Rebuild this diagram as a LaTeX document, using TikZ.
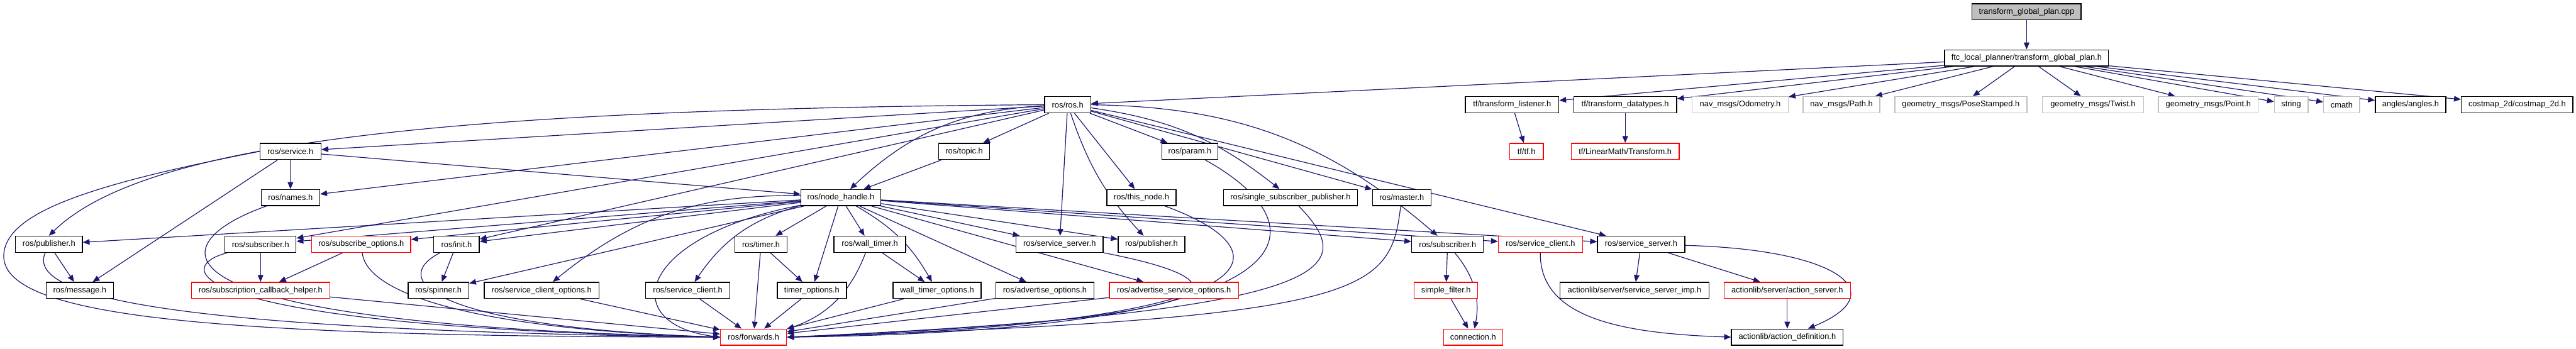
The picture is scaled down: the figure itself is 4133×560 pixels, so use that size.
\documentclass[tikz,border=0pt]{standalone}
\usepackage{fontspec}
\setmainfont{Liberation Sans}
\usetikzlibrary{arrows.meta}
\definecolor{edgecol}{HTML}{191970}
\definecolor{graycol}{HTML}{BFBFBF}
\pgfdeclarelayer{edgelayer}
\pgfsetlayers{edgelayer,main}
\begin{document}
\begin{tikzpicture}[x=1pt,y=1pt,
  box/.style={draw=black,fill=white,line width=1.4pt,minimum height=26pt,inner sep=0pt,font=\fontsize{13}{15}\selectfont},
  ext/.style={box,draw=graycol},
  trunc/.style={box,draw=red},
  root/.style={box,fill=graycol},
  dep/.style={draw=edgecol,line width=1.2pt,-{Triangle[length=11pt,width=9pt]}}]
\useasboundingbox (0,0) rectangle (4133,-560);
% row 0,1
\node[root,minimum width=175pt] (cpp) at (3251.5,-19) {transform\_global\_plan.cpp};
\node[box,minimum width=263pt] (ftc) at (3251.5,-93) {ftc\_local\_planner/transform\_global\_plan.h};
% row 2
\node[box,minimum width=74pt] (ros) at (1713,-168) {ros/ros.h};
\node[box,minimum width=150pt] (tfl) at (2426,-168) {tf/transform\_listener.h};
\node[box,minimum width=165pt] (tfd) at (2607.5,-168) {tf/transform\_datatypes.h};
\node[ext,minimum width=154pt] (odo) at (2792,-168) {nav\_msgs/Odometry.h};
\node[ext,minimum width=123pt] (path) at (2954.5,-168) {nav\_msgs/Path.h};
\node[ext,minimum width=212pt] (pose) at (3146,-168) {geometry\_msgs/PoseStamped.h};
\node[ext,minimum width=162pt] (twist) at (3358,-168) {geometry\_msgs/Twist.h};
\node[ext,minimum width=160pt] (point) at (3543,-168) {geometry\_msgs/Point.h};
\node[ext,minimum width=54pt] (string) at (3676,-168) {string};
\node[ext,minimum width=58pt] (cmath) at (3757,-168) {cmath};
\node[box,minimum width=113pt] (angles) at (3867.5,-168) {angles/angles.h};
\node[box,minimum width=179pt] (costmap) at (4038.5,-168) {costmap\_2d/costmap\_2d.h};
% row 3
\node[box,minimum width=98pt] (service) at (466,-243) {ros/service.h};
\node[box,minimum width=82pt] (topic) at (1547,-243) {ros/topic.h};
\node[box,minimum width=90pt] (param) at (1909,-243) {ros/param.h};
\node[trunc,minimum width=54pt] (tftf) at (2449,-243) {tf/tf.h};
\node[trunc,minimum width=173pt] (transform) at (2607.5,-243) {tf/LinearMath/Transform.h};
% row 4
\node[box,minimum width=94pt] (names) at (466,-317) {ros/names.h};
\node[box,minimum width=128pt] (nh) at (1349,-317) {ros/node\_handle.h};
\node[box,minimum width=111pt] (thisnode) at (1831.5,-317) {ros/this\_node.h};
\node[box,minimum width=215pt] (ssp) at (2070.5,-317) {ros/single\_subscriber\_publisher.h};
\node[box,minimum width=94pt] (master) at (2249,-317) {ros/master.h};
% row 5
\node[box,minimum width=107pt] (pubL) at (78.5,-392) {ros/publisher.h};
\node[box,minimum width=114pt] (subL) at (418,-392) {ros/subscriber.h};
\node[trunc,minimum width=159pt] (subopt) at (579.5,-392) {ros/subscribe\_options.h};
\node[box,minimum width=73pt] (init) at (732.5,-392) {ros/init.h};
\node[box,minimum width=84pt] (timer) at (1221,-392) {ros/timer.h};
\node[box,minimum width=115pt] (walltimer) at (1395.5,-392) {ros/wall\_timer.h};
\node[box,minimum width=140pt] (ssrvM) at (1700,-392) {ros/service\_server.h};
\node[box,minimum width=107pt] (pubM) at (1847.5,-392) {ros/publisher.h};
\node[box,minimum width=115pt] (subR) at (2322.5,-392) {ros/subscriber.h};
\node[trunc,minimum width=135pt] (sclientR) at (2471.5,-392) {ros/service\_client.h};
\node[box,minimum width=140pt] (ssrvR) at (2633,-392) {ros/service\_server.h};
% row 6
\node[box,minimum width=108pt] (message) at (128,-466) {ros/message.h};
\node[trunc,minimum width=222pt] (sch) at (418,-466) {ros/subscription\_callback\_helper.h};
\node[box,minimum width=97pt] (spinner) at (703.5,-466) {ros/spinner.h};
\node[box,minimum width=184pt] (sco) at (869,-466) {ros/service\_client\_options.h};
\node[box,minimum width=135pt] (sclient) at (1103.5,-466) {ros/service\_client.h};
\node[box,minimum width=111pt] (topt) at (1302.5,-466) {timer\_options.h};
\node[box,minimum width=141pt] (wtopt) at (1503.5,-466) {wall\_timer\_options.h};
\node[box,minimum width=157pt] (adv) at (1676.5,-466) {ros/advertise\_options.h};
\node[trunc,minimum width=207pt] (advs) at (1883.5,-466) {ros/advertise\_service\_options.h};
\node[trunc,minimum width=102pt] (sfilter) at (2320,-466) {simple\_filter.h};
\node[box,minimum width=239pt] (ssimp) at (2622.5,-466) {actionlib/server/service\_server\_imp.h};
\node[trunc,minimum width=203pt] (aserver) at (2867.5,-466) {actionlib/server/action\_server.h};
% row 7
\node[trunc,minimum width=106pt] (fwd) at (1209,-541) {ros/forwards.h};
\node[trunc,minimum width=95pt] (conn) at (2363.5,-541) {connection.h};
\node[box,minimum width=179pt] (adef) at (2867.5,-541) {actionlib/action\_definition.h};

\begin{pgfonlayer}{edgelayer}
% edges from top
\draw[dep] (cpp) -- (ftc);
\foreach \t in {ros,tfl,tfd,odo,path,pose,twist,point,string,cmath,angles,costmap}
  \draw[dep] (ftc) -- (\t);
\draw[dep] (tfl) -- (tftf);
\draw[dep] (tfd) -- (transform);
% ros/ros.h
\draw[dep] (ros) -- (topic);
\draw[dep] (ros) -- (param);
\draw[dep] (ros) -- (thisnode);
\draw[dep] (ros) to[bend left=15] (ssp);
\draw[dep] (ros) -- (master);
\draw[dep] (ros) to[bend left=20] (subR);
\draw[dep] (ros) -- (ssrvR);
\draw[dep] (ros) -- (ssrvM);
\draw[dep] (ros) to[bend right=12] (pubM);
\draw[dep] (ros) -- (service);
\draw[dep] (ros) -- (names);
\draw[dep] (ros) to[bend right=20] (nh);
\draw[dep] (topic) -- (nh);
\draw[dep] (ros) -- (init);
\draw[dep] (ros) -- (subL);
\draw[dep] (ros.west) .. controls (700,-175) and (230,-230) .. (pubL.north);
% ros/service.h
\draw[dep] (service) -- (names);
\draw[dep] (service) -- (message);
\draw[dep] (service) -- (nh);
\draw[dep] (service.west) .. controls (150,-295) and (8,-340) .. (6,-410) .. controls (4,-510) and (350,-540) .. (fwd.west);
\draw[dep] (names) .. controls (260,-390) and (200,-520) .. (fwd.west);
% left group
\draw[dep] (pubL) -- (message);
\draw[dep] (pubL) .. controls (40,-480) and (300,-530) .. (fwd.west);
\draw[dep] (subL) -- (sch);
\draw[dep] (subL) .. controls (270,-430) and (300,-525) .. (fwd.west);
\draw[dep] (subopt) -- (sch);
\draw[dep] (subopt) .. controls (590,-480) and (800,-530) .. (fwd.west);
\draw[dep] (sch) -- (fwd);
\draw[dep] (init) -- (spinner);
\draw[dep] (init) .. controls (620,-450) and (700,-525) .. (fwd.west);
% ros/node_handle.h
\foreach \t in {pubL,subL,subopt,init,spinner,timer,topt,walltimer,adv,advs,ssrvM,pubM,subR,sclientR,ssrvR}
  \draw[dep] (nh) -- (\t);
\draw[dep] (nh) to[bend right=20] (sco);
\draw[dep] (nh) to[bend right=20] (sclient);
\draw[dep] (nh) to[bend left=15] (wtopt);
\draw[dep] (nh) .. controls (1020,-380) and (990,-520) .. (fwd.west);
% middle group
\draw[dep] (timer) -- (topt);
\draw[dep] (timer) -- (fwd);
\draw[dep] (topt) -- (fwd);
\draw[dep] (sclient) -- (fwd);
\draw[dep] (sco) -- (fwd);
\draw[dep] (walltimer) -- (wtopt);
\draw[dep] (walltimer) to[bend left=25] (fwd);
\draw[dep] (wtopt) -- (fwd);
\draw[dep] (adv) -- (fwd);
\draw[dep] (advs) -- (fwd);
\draw[dep] (ssrvM) .. controls (2000,-450) and (2030,-510) .. (fwd.east);
\draw[dep] (thisnode) .. controls (2060,-400) and (2080,-520) .. (fwd.east);
\draw[dep] (param) .. controls (2120,-360) and (2140,-530) .. (fwd.east);
\draw[dep] (ssp) .. controls (2180,-430) and (2160,-500) .. (fwd.east);
\draw[dep] (master) .. controls (2230,-470) and (2200,-510) .. (fwd.east);
% right group
\draw[dep] (subR) -- (sfilter);
\draw[dep] (subR) to[bend left=25] (conn);
\draw[dep] (sfilter) -- (conn);
\draw[dep] (sclientR) .. controls (2470,-510) and (2600,-535) .. (adef.west);
\draw[dep] (ssrvR) -- (ssimp);
\draw[dep] (ssrvR) -- (aserver);
\draw[dep] (ssrvR) .. controls (2950,-400) and (3040,-470) .. (adef);
\draw[dep] (aserver) -- (adef);
\end{pgfonlayer}
\end{tikzpicture}
\end{document}
